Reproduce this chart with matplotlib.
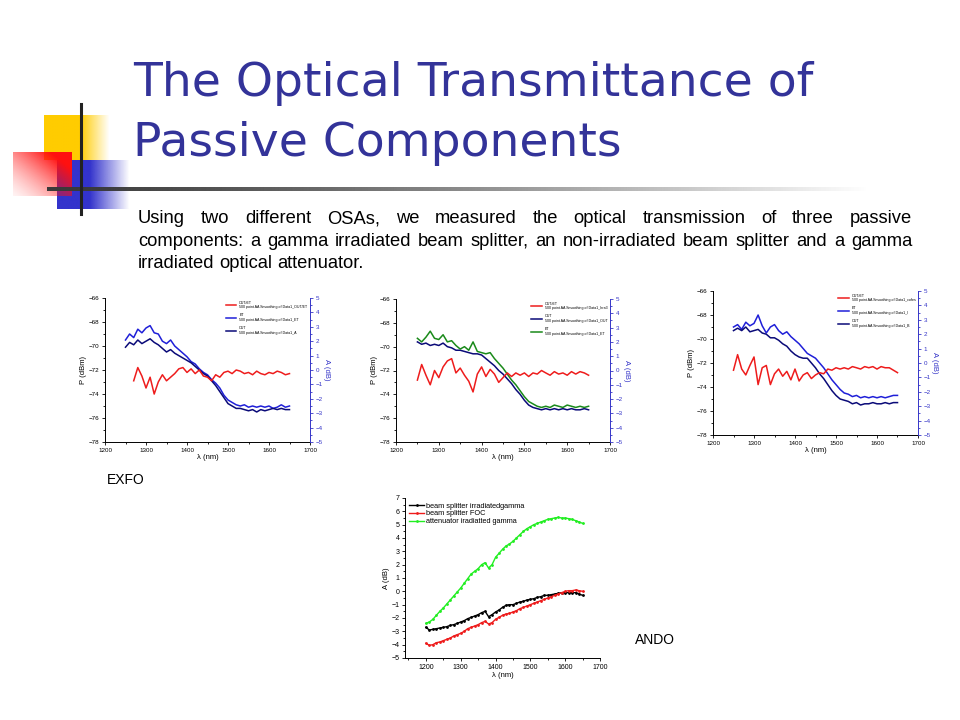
import numpy as np
import matplotlib
matplotlib.use('Agg')
import matplotlib.pyplot as plt
from matplotlib.ticker import MultipleLocator

plt.rcParams['font.family'] = ['Liberation Sans', 'DejaVu Sans']

W, H = 960, 720
TITLE_C = '#333399'
RED = '#ee1c1c'
BLUE = '#1f1fd8'
NAVY = '#0a0a78'
GREEN = '#1a8a1a'
AXBLUE = '#3535c8'

# ---------------- data ----------------
wl = np.arange(1250, 1651, 10)          # EXFO sampling, nm
wl_red1 = np.arange(1270, 1651, 10)
wl_ando = np.arange(1200, 1651, 10)

# EXFO 1 : P (dBm) and ratio A (dB)
p1_et = [-69.5, -69.0, -69.3, -68.6, -68.9, -68.5, -68.3, -68.9, -69.0, -69.6,
         -69.8, -69.5, -70.0, -70.3, -70.6, -70.9, -71.3, -71.5, -71.9, -72.2,
         -72.4, -72.8, -73.1, -73.5, -74.1, -74.5, -74.7, -74.9, -75.0, -74.9,
         -75.1, -75.0, -75.1, -75.0, -75.1, -75.0, -75.2, -75.1, -74.9, -75.1, -75.0]
p1_out = [-70.1, -69.7, -69.9, -69.5, -69.8, -69.6, -69.4, -69.7, -69.9, -70.2,
          -70.5, -70.3, -70.6, -70.8, -71.0, -71.2, -71.4, -71.7, -72.0, -72.3,
          -72.5, -72.9, -73.3, -73.8, -74.3, -74.8, -75.0, -75.2, -75.2, -75.3,
          -75.4, -75.3, -75.5, -75.3, -75.4, -75.3, -75.2, -75.3, -75.2, -75.3, -75.3]
a1_ratio = [-0.75, 0.17, -0.42, -1.25, -0.5, -1.67, -0.83, -0.33, -0.75, -0.5,
            -0.25, 0.08, 0.17, -0.17, 0.08, -0.25, 0.0, -0.42, -0.5, -0.75,
            -0.33, -0.5, -0.17, -0.08, -0.25, 0.0, -0.08, -0.25, -0.17, -0.33,
            -0.08, -0.25, -0.33, -0.17, -0.25, -0.08, -0.17, -0.33, -0.25]

# EXFO 2
p2_out = [-69.6, -69.8, -69.7, -69.9, -69.8, -69.9, -69.7, -70.0, -70.1, -70.3,
          -70.3, -70.4, -70.5, -70.6, -70.6, -70.7, -71.0, -71.3, -71.6, -72.0,
          -72.3, -72.7, -73.1, -73.6, -74.0, -74.5, -74.9, -75.1, -75.2, -75.3,
          -75.2, -75.3, -75.2, -75.3, -75.2, -75.3, -75.2, -75.3, -75.3, -75.2, -75.3]
p2_et = [-69.3, -69.6, -69.2, -68.7, -69.3, -69.4, -69.0, -69.6, -69.5, -69.9,
         -70.2, -70.0, -70.3, -69.6, -70.4, -70.5, -70.6, -70.5, -71.0, -71.4,
         -71.8, -72.3, -72.8, -73.2, -73.7, -74.2, -74.6, -74.8, -75.0, -75.1,
         -75.0, -75.1, -74.9, -75.0, -75.1, -74.9, -75.0, -75.1, -75.0, -75.1, -75.0]
a2_ratio = [-0.67, 0.42, -0.33, -1.0, 0.0, -0.5, 0.25, 0.67, 0.83, -0.17,
            0.17, -0.33, -0.75, -1.5, -0.25, 0.25, -0.42, 0.08, -0.25, -0.83,
            -0.5, -0.17, -0.42, -0.17, -0.33, -0.17, -0.42, -0.17, -0.25, 0.0,
            -0.17, -0.33, -0.08, -0.25, -0.17, -0.33, -0.08, -0.25, -0.08, -0.17, -0.33]

# EXFO 3
p3_et = [-69.0, -68.8, -69.2, -68.6, -68.9, -68.7, -68.0, -68.9, -69.5, -69.0,
         -68.8, -69.3, -69.6, -69.4, -69.8, -70.1, -70.4, -70.8, -71.2, -71.4,
         -71.6, -72.0, -72.4, -72.9, -73.4, -73.8, -74.2, -74.5, -74.6, -74.8,
         -74.7, -74.9, -74.8, -74.9, -74.8, -74.9, -74.8, -74.9, -74.8, -74.7, -74.7]
p3_out = [-69.3, -69.1, -69.3, -69.0, -69.4, -69.3, -69.2, -69.5, -69.6, -69.9,
          -69.9, -70.1, -70.4, -70.6, -71.0, -71.3, -71.5, -71.6, -71.6, -72.0,
          -72.4, -72.9, -73.3, -73.8, -74.3, -74.7, -75.0, -75.1, -75.2, -75.4,
          -75.3, -75.5, -75.4, -75.4, -75.3, -75.4, -75.4, -75.3, -75.4, -75.3, -75.3]
a3_ratio = [-0.5, 0.58, -0.42, -0.83, -0.17, 0.42, -1.5, -0.33, -0.17, -1.5,
            -0.75, -0.42, -0.92, -0.58, -1.17, -0.42, -1.25, -0.83, -0.67, -1.08,
            -0.83, -0.67, -0.75, -0.42, -0.5, -0.33, -0.42, -0.33, -0.42, -0.25,
            -0.33, -0.42, -0.25, -0.33, -0.25, -0.42, -0.25, -0.33, -0.33, -0.5, -0.67]

# ANDO : A (dB)
a_bs_irr = [-2.7, -2.9, -2.85, -2.8, -2.75, -2.7, -2.65, -2.55, -2.5, -2.4,
            -2.3, -2.2, -2.05, -1.95, -1.85, -1.75, -1.6, -1.5, -1.9, -1.75,
            -1.55, -1.4, -1.2, -1.05, -1.0, -1.0, -0.9, -0.8, -0.75, -0.65,
            -0.6, -0.55, -0.45, -0.4, -0.3, -0.3, -0.25, -0.2, -0.15, -0.1,
            -0.1, -0.1, -0.1, -0.1, -0.2, -0.3]
a_bs_foc = [-3.9, -4.05, -4.0, -3.85, -3.8, -3.7, -3.6, -3.5, -3.35, -3.25,
            -3.15, -3.0, -2.8, -2.7, -2.6, -2.5, -2.35, -2.25, -2.45, -2.35,
            -2.1, -1.95, -1.8, -1.7, -1.65, -1.55, -1.45, -1.3, -1.2, -1.1,
            -1.0, -0.9, -0.8, -0.7, -0.6, -0.5, -0.4, -0.3, -0.2, -0.1,
            0.0, 0.05, 0.05, 0.1, 0.05, 0.0]
a_att = [-2.4, -2.3, -2.1, -1.8, -1.5, -1.25, -0.95, -0.65, -0.35, -0.05,
         0.25, 0.6, 0.95, 1.3, 1.5, 1.7, 2.0, 2.15, 1.75, 2.0,
         2.55, 2.85, 3.15, 3.4, 3.55, 3.75, 4.0, 4.25, 4.5, 4.7,
         4.85, 5.0, 5.1, 5.2, 5.3, 5.4, 5.45, 5.5, 5.55, 5.5,
         5.5, 5.45, 5.4, 5.3, 5.2, 5.1]

title_lines = ['The Optical Transmittance of', 'Passive Components']
para_lines = ['Using two different OSAs, we measured the optical transmission of three passive',
              'components: a gamma irradiated beam splitter, an non-irradiated beam splitter and a gamma',
              'irradiated optical attenuator.']
ando_labels = ['beam splitter irradiatedgamma', 'beam splitter FOC', 'attenuator iradiatted gamma']


def px_axes(fig, x0, y0, x1, y1):
    return fig.add_axes([x0/W, 1-y1/H, (x1-x0)/W, (y1-y0)/H])


def gradient(ax, x0, y0, x1, y1, color, alpha):
    rgb = matplotlib.colors.to_rgb(color)
    img = np.zeros(alpha.shape + (4,))
    img[..., :3] = rgb
    img[..., 3] = alpha
    ax.imshow(img, extent=(x0, x1, y1, y0), origin='upper', aspect='auto',
              interpolation='bilinear', zorder=1)


def style_axes(ax, ylim, ymaj, ymin, fs=4.5):
    ax.set_ylim(ylim)
    ax.yaxis.set_major_locator(MultipleLocator(ymaj))
    ax.yaxis.set_minor_locator(MultipleLocator(ymin))
    ax.xaxis.set_major_locator(MultipleLocator(100))
    ax.xaxis.set_minor_locator(MultipleLocator(50))
    ax.spines['top'].set_visible(False)
    ax.tick_params(which='both', labelsize=fs, width=0.6, pad=1.5)
    ax.tick_params(which='major', length=2.5)
    ax.tick_params(which='minor', length=1.5)
    for s in ax.spines.values():
        s.set_linewidth(0.7)


def exfo_plot(fig, rect, curves, red_x, red_a, labels):
    ax = px_axes(fig, *rect)
    for y, c in curves:
        ax.plot(wl, y, color=c, lw=1.1)
    ax.set_xlim(1200, 1700)
    style_axes(ax, (-78, -66), 2, 1)
    ax.tick_params(axis='y', which='both', right=False)
    ax.spines['right'].set_visible(False)
    ax.set_ylabel('P (dBm)', fontsize=5.5, labelpad=1)
    ax.set_xlabel('λ (nm)', fontsize=5.5, labelpad=1)
    ax2 = ax.twinx()
    ax2.plot(red_x, red_a, color=RED, lw=1.1)
    style_axes(ax2, (-5, 5), 1, 0.5)
    ax2.spines['left'].set_visible(False)
    ax2.spines['bottom'].set_visible(False)
    ax2.spines['right'].set_color(AXBLUE)
    ax2.tick_params(axis='y', which='both', colors=AXBLUE)
    ax2.set_ylabel('A (dB)', fontsize=5.5, color=AXBLUE, rotation=270, labelpad=5)
    handles = [ax2.lines[0]] + ax.lines
    ax2.legend(handles, labels, loc='upper right', frameon=False, fontsize=2.6,
               handlelength=3, labelspacing=1.2, borderaxespad=0.3)
    return ax


fig = plt.figure(figsize=(9.6, 7.2), dpi=100)
bg = fig.add_axes([0, 0, 1, 1])
bg.axis('off')

# corner decoration
yy, xx = np.mgrid[0:1:60j, 0:1:60j]
gradient(bg, 44, 115, 110, 160, '#ffcc00', np.clip((1 - xx) / 0.45, 0, 1))
gradient(bg, 57, 160, 130, 209, '#3333cc', np.clip((1 - xx) / 0.55, 0, 1))
gradient(bg, 13, 152, 72, 196, '#ff1010', np.clip(0.15 + 0.55 * xx + 0.5 * (1 - yy), 0, 1) ** 1.6)
line_a = np.tile(np.clip(1 - np.linspace(0, 1, 300) ** 1.3, 0, 1), (2, 1))
gradient(bg, 47, 187, 870, 191, '#3a3a3a', line_a)
bg.plot([81, 81], [104, 214], color='#222222', lw=2.2, zorder=3)
bg.set_xlim(0, W)
bg.set_ylim(H, 0)

for i, t in enumerate(title_lines):
    bg.text(133, 96 + 60 * i, t, fontsize=34, color=TITLE_C, va='baseline',
            family=['DejaVu Sans'])

# justified paragraph
renderer = fig.canvas.get_renderer()
PFS = 13.2
t_two = bg.text(0, 300, 'a a', fontsize=PFS)
t_one = bg.text(0, 300, 'a', fontsize=PFS)
space_w = t_two.get_window_extent(renderer).width - 2 * t_one.get_window_extent(renderer).width
t_two.remove()
t_one.remove()
for i, line in enumerate(para_lines):
    y = 223 + 22.5 * i
    words = line.split()
    texts = [bg.text(0, y, w, fontsize=PFS, va='baseline') for w in words]
    widths = [t.get_window_extent(renderer).width for t in texts]
    if i < len(para_lines) - 1:
        gap = (912 - 138 - sum(widths)) / (len(words) - 1)
    else:
        gap = space_w
    x = 138
    for t, w in zip(texts, widths):
        t.set_x(x)
        x += w + gap

bg.text(107, 480, 'EXFO', fontsize=10, va='center')
bg.text(635, 640, 'ANDO', fontsize=10, va='center')

exfo_plot(fig, (105, 298, 310, 442), [(p1_et, BLUE), (p1_out, NAVY)], wl_red1, a1_ratio,
          ['OUT/ET\n500 point AA Smoothing of Data1_OUT/ET',
           'ET\n500 point AA Smoothing of Data1_ET',
           'OUT\n500 point AA Smoothing of Data1_A'])
exfo_plot(fig, (396, 299, 610, 442), [(p2_out, NAVY), (p2_et, GREEN)], wl, a2_ratio,
          ['OUT/ET\n500 point AA Smoothing of Data1_Irra3',
           'OUT\n500 point AA Smoothing of Data1_OUT',
           'ET\n500 point AA Smoothing of Data1_ET'])
exfo_plot(fig, (713, 291, 918, 435), [(p3_et, BLUE), (p3_out, NAVY)], wl, a3_ratio,
          ['OUT/ET\n500 point AA Smoothing of Data1_cofes',
           'ET\n500 point AA Smoothing of Data1_I',
           'OUT\n500 point AA Smoothing of Data1_B'])

# ANDO plot
ax4 = px_axes(fig, 405, 498, 600, 658)
for y, c, lab in zip([a_bs_irr, a_bs_foc, a_att], ['black', RED, '#22ee22'], ando_labels):
    ax4.plot(wl_ando, y, color=c, lw=1.0, marker='.', ms=2, label=lab)
ax4.set_xlim(1140, 1700)
style_axes(ax4, (-5, 7), 1, 0.5, fs=5)
ax4.spines['right'].set_visible(False)
ax4.set_ylabel('A (dB)', fontsize=5.5, labelpad=1)
ax4.set_xlabel('λ (nm)', fontsize=5.5, labelpad=1)
ax4.legend(loc='upper left', frameon=False, fontsize=5.3, handlelength=2,
           labelspacing=0.1, borderaxespad=0.2, handletextpad=0.3)

fig.savefig('out.png', dpi=100)
